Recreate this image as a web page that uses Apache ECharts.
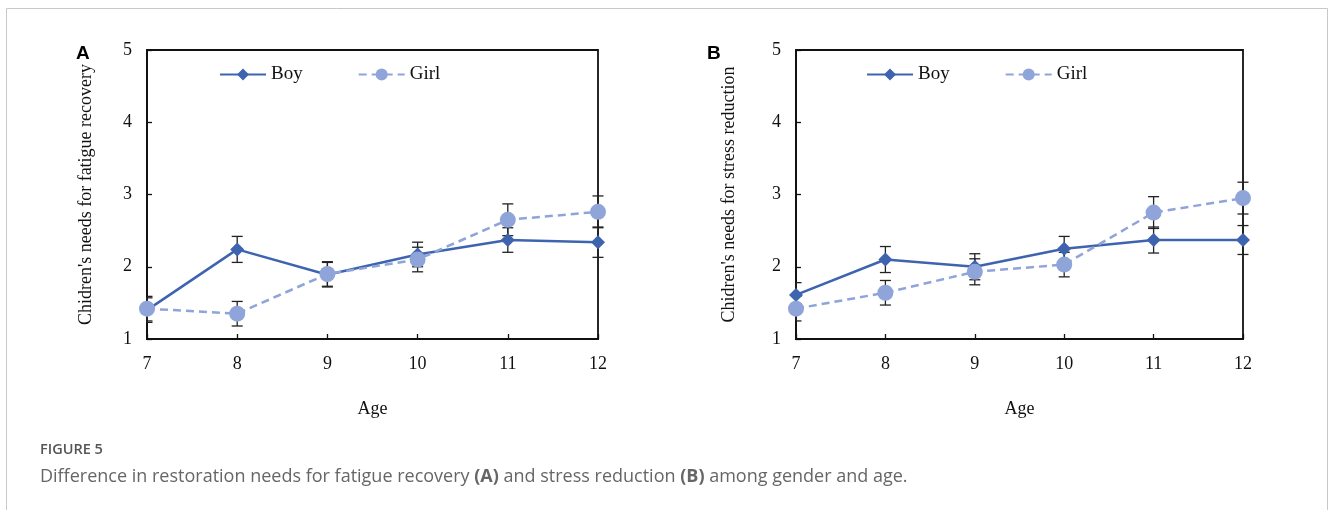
<!DOCTYPE html>
<html>
<head>
<meta charset="utf-8">
<script src="https://cdn.jsdelivr.net/npm/echarts@6/dist/echarts.min.js"></script>
<style>
  html, body { margin: 0; padding: 0; background: #fff; }
  #chart { width: 1330px; height: 510px; }
</style>
</head>
<body>
<div id="chart"></div>
<script>
// Ages on the horizontal axis
const ages = [7, 8, 9, 10, 11, 12];

// Panel A: fatigue recovery (mean and error half-width)
const boyFatigue = [1.40, 2.24, 1.89, 2.17, 2.37, 2.34];
const boyFatigueErr = [0.17, 0.18, 0.17, 0.17, 0.17, 0.21];
const girlFatigue = [1.42, 1.35, 1.90, 2.10, 2.65, 2.76];
const girlFatigueErr = [0.17, 0.17, 0.17, 0.17, 0.22, 0.22];

// Panel B: stress reduction (mean and error half-width)
const boyStress = [1.61, 2.10, 2.00, 2.25, 2.37, 2.37];
const boyStressErr = [0.17, 0.18, 0.18, 0.17, 0.18, 0.20];
const girlStress = [1.42, 1.64, 1.93, 2.03, 2.75, 2.95];
const girlStressErr = [0.17, 0.17, 0.18, 0.17, 0.22, 0.22];

const seriesNames = ['Boy', 'Girl'];
const yTitles = ["Chidren's needs for fatigue recovery", "Chidren's needs for stress reduction"];
const xTitle = 'Age';
const panelLetters = ['A', 'B'];
const figureLabel = 'FIGURE 5';
const captionText = 'Difference in restoration needs for fatigue recovery {b|(A)} and stress reduction {b|(B)} among gender and age.';

const BOY = '#3e64b0';
const GIRL = '#8fa4d9';
const SERIF = '"Liberation Serif", "Times New Roman", serif';
const SANS = '"Open Sans", "Noto Sans", sans-serif';

const pairs = (ys) => ages.map((a, i) => [a, ys[i]]);
const ranges = (ys, es) => ages.map((a, i) => [a, ys[i] - es[i], ys[i] + es[i]]);

// Vertical error bar with caps; at the first age the cap only extends into the plot
function errorBars(name, idx, ys, es) {
  return {
    name: name + ' error',
    type: 'custom',
    xAxisIndex: idx, yAxisIndex: idx,
    clip: false,
    z: 1,
    silent: true,
    data: ranges(ys, es),
    renderItem: function (params, api) {
      const x = api.value(0);
      const lo = api.coord([x, api.value(1)]);
      const hi = api.coord([x, api.value(2)]);
      const w = 5.5;
      const wl = x === ages[0] ? 0 : w;
      const style = { stroke: '#222', lineWidth: 1.3 };
      return {
        type: 'group',
        children: [
          { type: 'line', shape: { x1: lo[0], y1: lo[1], x2: hi[0], y2: hi[1] }, style },
          { type: 'line', shape: { x1: lo[0] - wl, y1: lo[1], x2: lo[0] + w, y2: lo[1] }, style },
          { type: 'line', shape: { x1: hi[0] - wl, y1: hi[1], x2: hi[0] + w, y2: hi[1] }, style }
        ]
      };
    }
  };
}

function boyLine(idx, ys) {
  return {
    name: seriesNames[0], type: 'line', xAxisIndex: idx, yAxisIndex: idx, z: 2,
    data: pairs(ys), symbol: 'diamond', symbolSize: 14,
    lineStyle: { color: BOY, width: 2.5, type: 'solid' },
    itemStyle: { color: BOY }
  };
}
function girlLine(idx, ys) {
  return {
    name: seriesNames[1], type: 'line', xAxisIndex: idx, yAxisIndex: idx, z: 3,
    data: pairs(ys), symbol: 'circle', symbolSize: 16,
    lineStyle: { color: GIRL, width: 2.5, type: [8, 5] },
    itemStyle: { color: GIRL }
  };
}

const grids = [
  { left: 147, width: 451, top: 50, height: 289 },
  { left: 796, width: 447, top: 50, height: 289 }
];

function xAxis(idx) {
  return {
    type: 'value', gridIndex: idx, min: 7, max: 12, interval: 1,
    name: xTitle, nameLocation: 'middle', nameGap: 61,
    nameTextStyle: { fontFamily: SERIF, fontSize: 18, color: '#111' },
    axisLine: { show: true, lineStyle: { color: '#111', width: 1.8 } },
    axisTick: { show: true, inside: true, length: 5, lineStyle: { color: '#111', width: 1.3 } },
    axisLabel: { fontFamily: SERIF, fontSize: 18, color: '#111', margin: 16 },
    splitLine: { show: false }
  };
}
function yAxis(idx, title, gap) {
  return {
    type: 'value', gridIndex: idx, min: 1, max: 5, interval: 1,
    name: title, nameLocation: 'middle', nameGap: gap, nameRotate: 90,
    nameTextStyle: { fontFamily: SERIF, fontSize: 18, color: '#111' },
    axisLine: { show: true, lineStyle: { color: '#111', width: 1.8 } },
    axisTick: { show: true, inside: true, length: 5, lineStyle: { color: '#111', width: 1.3 } },
    axisLabel: { fontFamily: SERIF, fontSize: 18, color: '#111', margin: 15 },
    splitLine: { show: false }
  };
}

function legend(left) {
  return {
    left: left, top: 65, orient: 'horizontal', padding: 0,
    data: seriesNames, itemWidth: 46, itemHeight: 15, itemGap: 55,
    selectedMode: false,
    textStyle: { fontFamily: SERIF, fontSize: 19, color: '#111' }
  };
}

const chart = echarts.init(document.getElementById('chart'), null, { renderer: 'canvas' });
chart.setOption({
  animation: false,
  grid: grids.map(g => Object.assign({ show: true, borderColor: '#111', borderWidth: 1.8, backgroundColor: 'transparent' }, g)),
  xAxis: [xAxis(0), xAxis(1)],
  yAxis: [yAxis(0, yTitles[0], 52), yAxis(1, yTitles[1], 58)],
  legend: [legend(219), legend(866)],
  series: [
    errorBars('Boy A', 0, boyFatigue, boyFatigueErr),
    errorBars('Girl A', 0, girlFatigue, girlFatigueErr),
    boyLine(0, boyFatigue),
    girlLine(0, girlFatigue),
    errorBars('Boy B', 1, boyStress, boyStressErr),
    errorBars('Girl B', 1, girlStress, girlStressErr),
    boyLine(1, boyStress),
    girlLine(1, girlStress)
  ],
  graphic: [
    { type: 'rect', shape: { x: 6.5, y: 8.5, width: 1321, height: 520 }, style: { fill: 'none', stroke: '#c8c8c8', lineWidth: 1 }, silent: true },
    { type: 'text', left: 76, top: 44, style: { text: panelLetters[0], font: 'bold 19px "Liberation Sans", Arial, sans-serif', fill: '#000' } },
    { type: 'text', left: 707, top: 44, style: { text: panelLetters[1], font: 'bold 19px "Liberation Sans", Arial, sans-serif', fill: '#000' } },
    { type: 'text', left: 40, top: 442, style: { text: figureLabel, font: '600 14.5px ' + SANS, fill: '#555' } },
    {
      type: 'text', left: 40, top: 468,
      style: {
        text: captionText,
        font: '18px ' + SANS, fill: '#666',
        rich: { b: { fontWeight: 'bold', fontSize: 18, fontFamily: SANS, color: '#555' } }
      }
    }
  ]
});
</script>
</body>
</html>
